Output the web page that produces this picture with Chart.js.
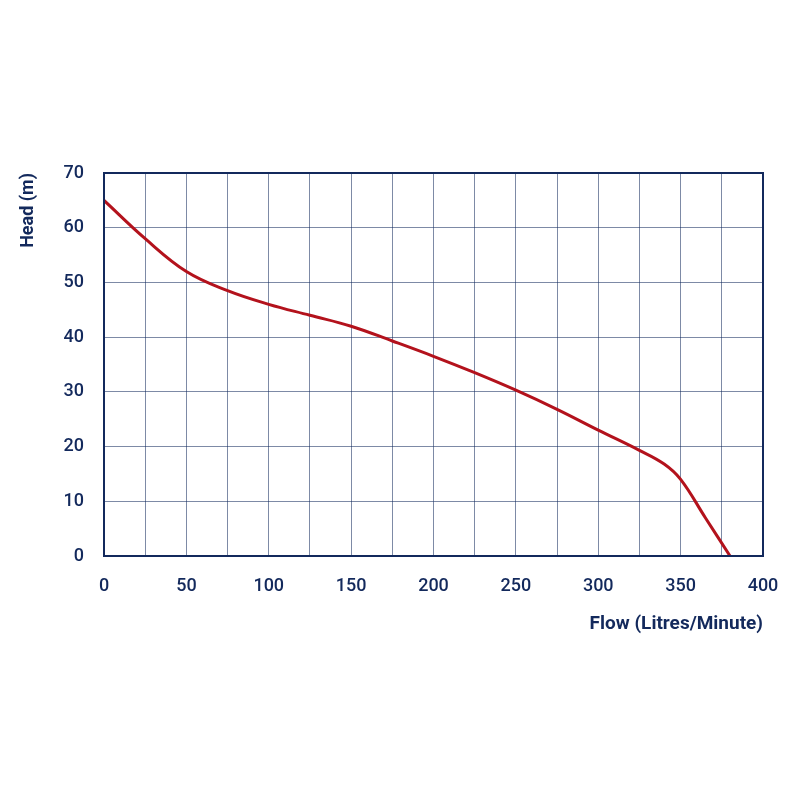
<!DOCTYPE html>
<html>
<head>
<meta charset="utf-8">
<script src="https://cdn.jsdelivr.net/npm/chart.js@4.4.1/dist/chart.umd.min.js"></script>
<style>
  html, body { margin: 0; padding: 0; background: #fff; }
  #wrap { width: 800px; height: 800px; }
</style>
</head>
<body>
<div id="wrap"><canvas id="grafico" width="800" height="800"></canvas></div>
<script>
// pump curve
const flow = [0, 25, 50, 75, 100, 125, 150, 175, 200, 225, 250, 275, 300, 325, 340, 350, 365, 380];
const head = [65, 58, 52, 48.5, 46, 44, 42, 39.3, 36.5, 33.5, 30.3, 26.8, 23, 19.3, 16.8, 14, 7, 0];
const xLabelsShown = [0, 50, 100, 150, 200, 250, 300, 350, 400];

const navy = '#13295c';
const gridColor = 'rgba(19, 41, 92, 0.55)';
const fontFam = 'Roboto, "DejaVu Sans", sans-serif';

const ctx = document.getElementById('grafico').getContext('2d');

const puntos = flow.map((f, i) => ({ x: f, y: head[i] }));

const marco = {
    id: 'marco',
    afterDraw(chart) {
        const a = chart.chartArea;
        const c = chart.ctx;
        c.save();
        c.strokeStyle = navy;
        c.lineWidth = 2;
        c.strokeRect(a.left, a.top, a.right - a.left, a.bottom - a.top);
        c.restore();
    }
};

new Chart(ctx, {
    type: 'line',
    data: {
        datasets: [{
            data: puntos,
            borderColor: '#b3121c',
            borderWidth: 3,
            pointRadius: 0,
            tension: 0.4,
            fill: false
        }]
    },
    options: {
        responsive: false,
        animation: false,
        layout: { padding: { left: 18, right: 37, top: 173, bottom: 160 } },
        plugins: { legend: { display: false }, tooltip: { enabled: false } },
        scales: {
            x: {
                type: 'linear',
                min: 0,
                max: 400,
                ticks: {
                    stepSize: 25,
                    autoSkip: false,
                    maxRotation: 0,
                    color: navy,
                    padding: 20,
                    font: { family: fontFam, size: 18, weight: '500' },
                    callback: v => xLabelsShown.includes(v) ? v : ''
                },
                grid: { color: gridColor, lineWidth: 1, drawTicks: false },
                border: { display: false },
                title: {
                    display: true,
                    text: 'Flow (Litres/Minute)',
                    align: 'end',
                    color: navy,
                    padding: { top: 0, bottom: 4 },
                    font: { family: fontFam, size: 19, weight: 'bold' }
                },
                afterFit: s => { s.height = 84; }
            },
            y: {
                min: 0,
                max: 70,
                ticks: {
                    stepSize: 10,
                    color: navy,
                    padding: 20,
                    font: { family: fontFam, size: 18, weight: '500' }
                },
                grid: { color: gridColor, lineWidth: 1, drawTicks: false },
                border: { display: false },
                title: {
                    display: true,
                    text: 'Head (m)',
                    align: 'end',
                    color: navy,
                    padding: { top: 0, bottom: 4 },
                    font: { family: fontFam, size: 18, weight: 'bold' }
                },
                afterFit: s => { s.width = 86; }
            }
        }
    },
    plugins: [marco]
});
</script>
</body>
</html>
